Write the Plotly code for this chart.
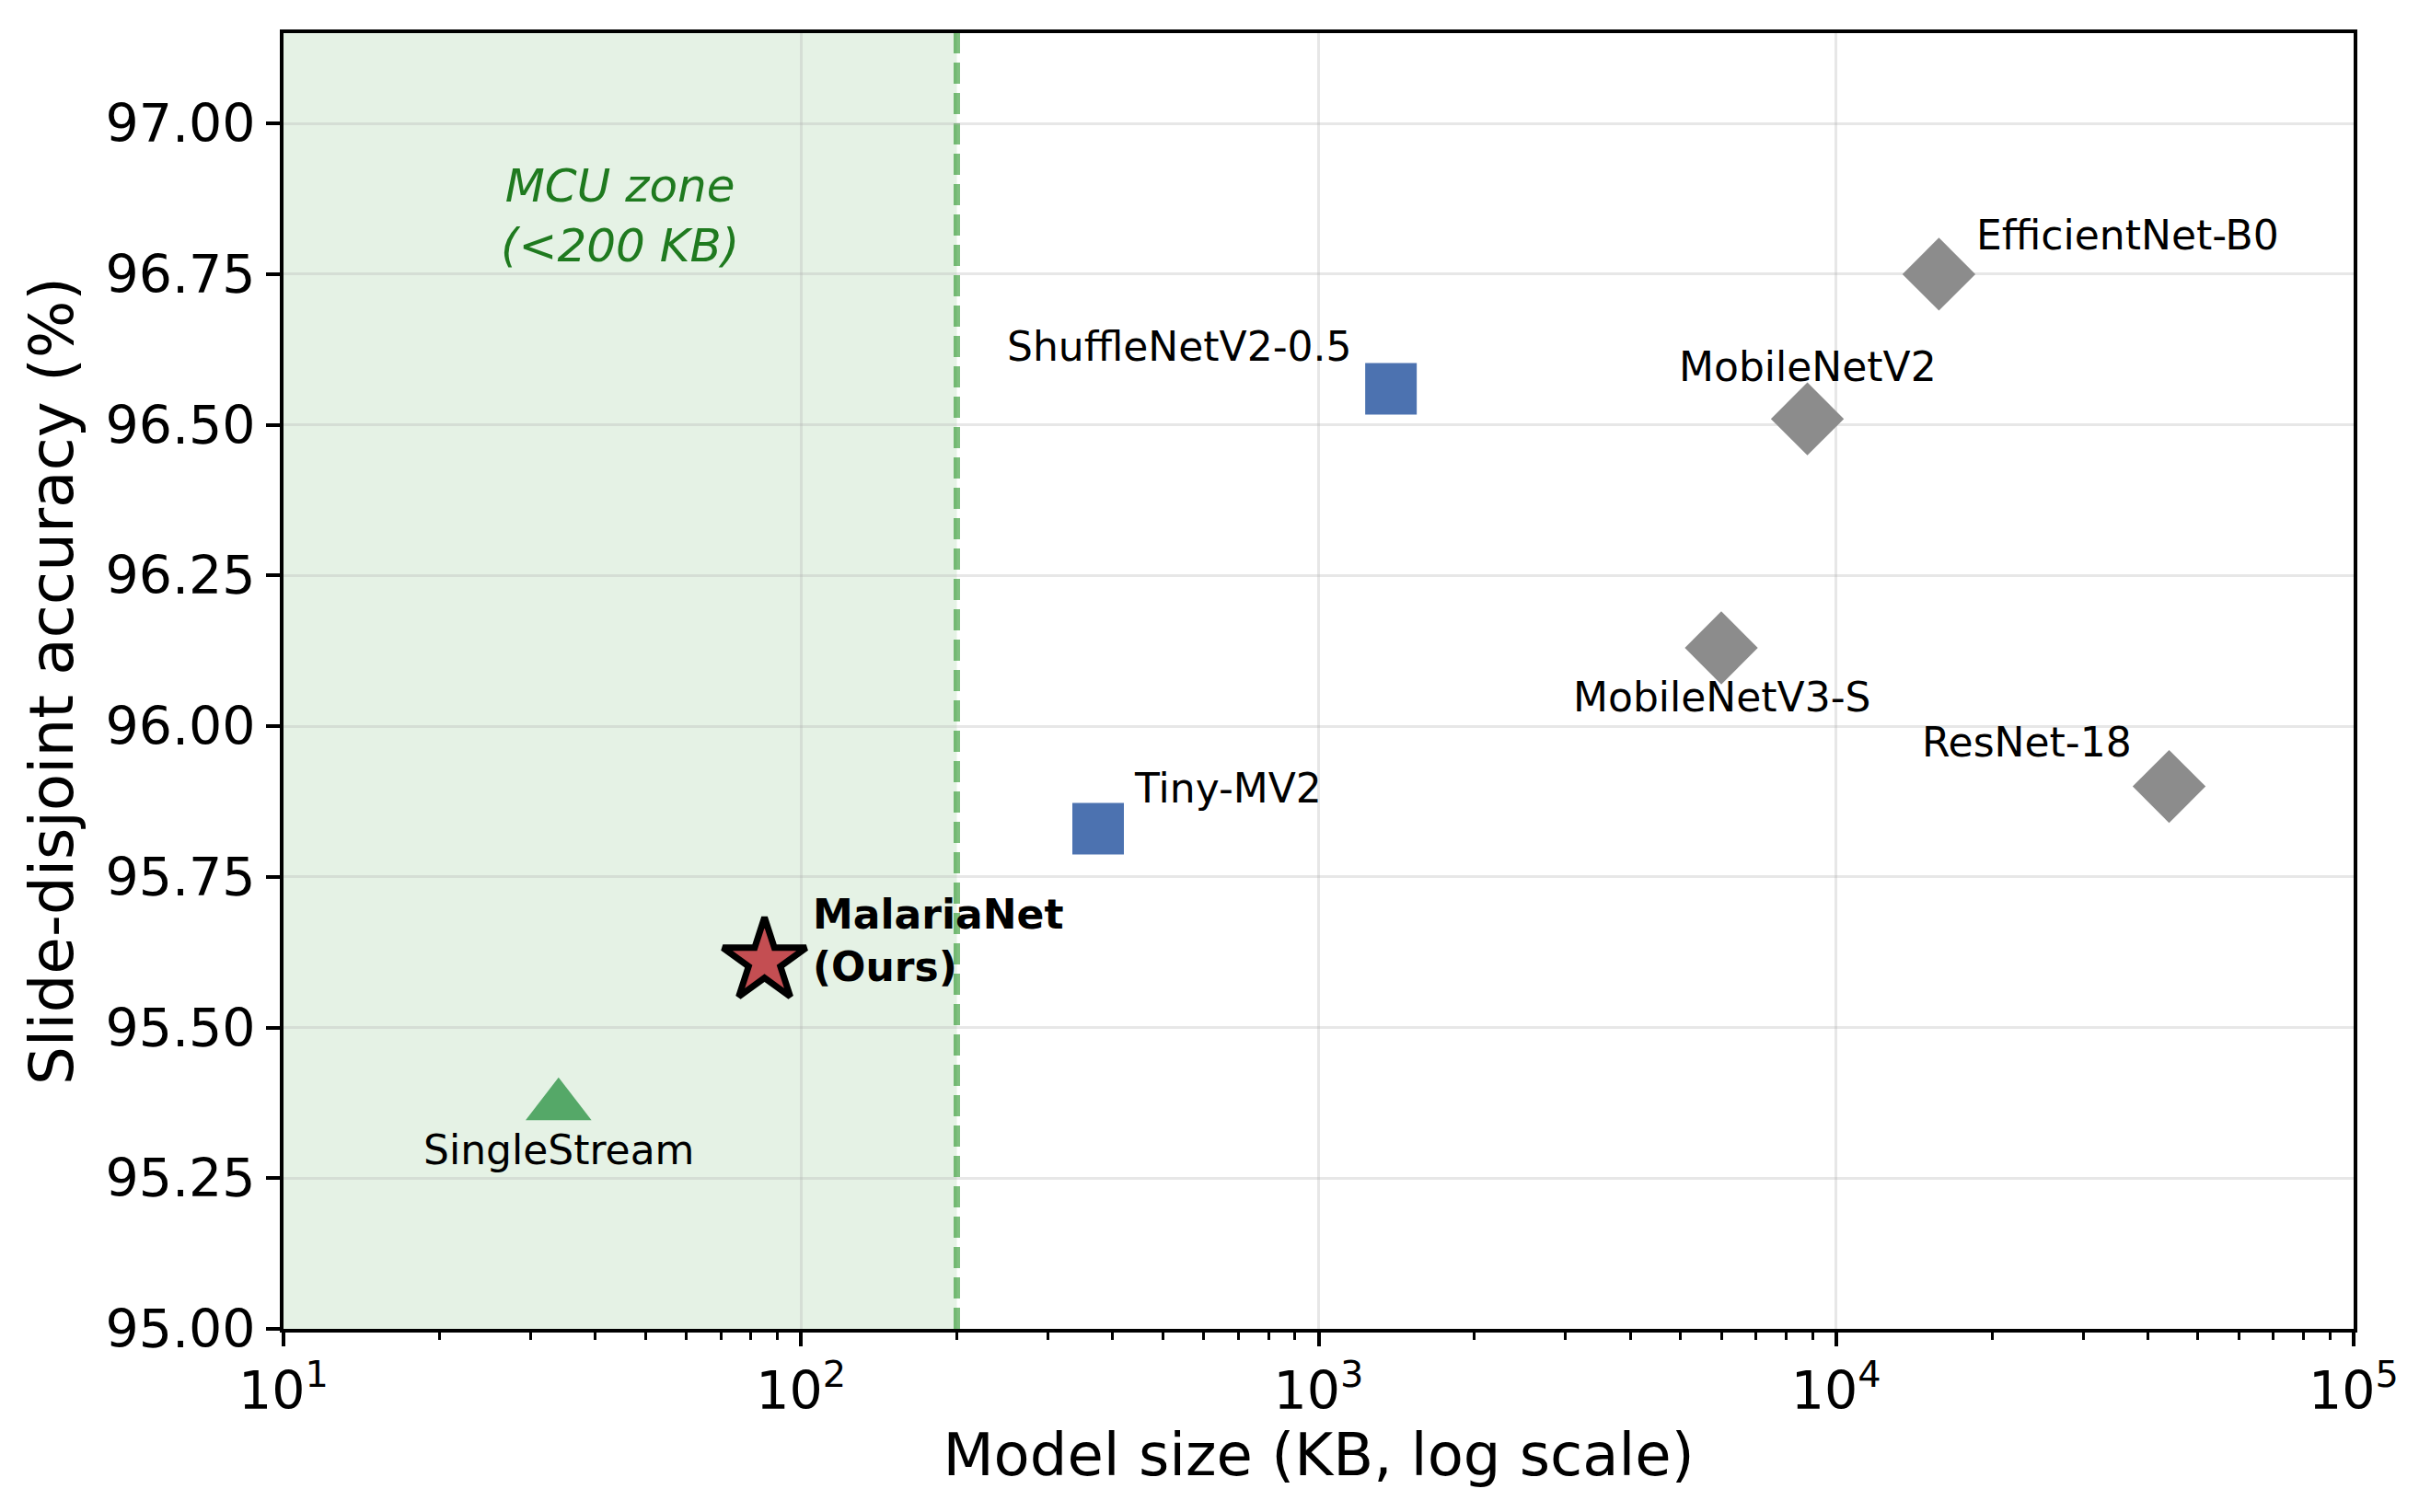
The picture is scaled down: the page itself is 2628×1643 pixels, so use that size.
import numpy as np
import plotly.graph_objects as go

# model name, size (KB), slide-disjoint accuracy (%)
ours_name = ["MalariaNet<br>(Ours)"]
ours_size = [85]
ours_acc = [95.61]

single_name = ["SingleStream"]
single_size = [34]
single_acc = [95.37]

light_names = ["Tiny-MV2", "ShuffleNetV2-0.5"]
light_size = [375, 1380]
light_acc = [95.83, 96.56]

big_names = ["MobileNetV3-S", "MobileNetV2", "EfficientNet-B0", "ResNet-18"]
big_size = [6000, 8800, 15800, 44000]
big_acc = [96.13, 96.51, 96.75, 95.90]

mcu_limit = 200
x_decades = [1, 2, 3, 4, 5]
x_ticktext = ["10<sup>%d</sup>" % d for d in x_decades]

# label placement: (xanchor, xshift px, yshift px)
label_pos = {
    "MalariaNet<br>(Ours)": ("left", 50, 23),
    "SingleStream": ("center", 0, -48),
    "Tiny-MV2": ("left", 37, 44),
    "ShuffleNetV2-0.5": ("right", -40, 46),
    "MobileNetV3-S": ("center", 0, -54),
    "MobileNetV2": ("center", 0, 57),
    "EfficientNet-B0": ("left", 39, 42),
    "ResNet-18": ("right", -39, 48),
}

FONT = "DejaVu Sans"
fig = go.Figure()

# MCU zone shading + boundary
fig.add_vrect(x0=10, x1=mcu_limit, fillcolor="rgba(0,128,0,0.1)", line_width=0, layer="below")
fig.add_vline(x=mcu_limit, line=dict(color="rgba(0,128,0,0.5)", width=7, dash="23px,10px"), layer="below")

fig.add_trace(go.Scatter(
    x=big_size, y=big_acc, mode="markers",
    marker=dict(symbol="diamond", size=61, color="#8c8c8c", line=dict(width=0)),
    showlegend=False))
fig.add_trace(go.Scatter(
    x=light_size, y=light_acc, mode="markers",
    marker=dict(symbol="square", size=56, color="#4c72b0", line=dict(width=0)),
    showlegend=False))
fig.add_trace(go.Scatter(
    x=single_size, y=single_acc, mode="markers",
    marker=dict(symbol="triangle-up", size=62, color="#55a868", line=dict(width=0)),
    showlegend=False))
fig.add_trace(go.Scatter(
    x=ours_size, y=ours_acc, mode="markers",
    marker=dict(symbol="star", size=68, color="#c44e52", line=dict(width=7, color="black")),
    showlegend=False))

for names, sizes, accs in [(ours_name, ours_size, ours_acc), (single_name, single_size, single_acc),
                           (light_names, light_size, light_acc), (big_names, big_size, big_acc)]:
    for n, s, a in zip(names, sizes, accs):
        anchor, dx, dy = label_pos[n]
        bold = n in ours_name
        fig.add_annotation(
            x=np.log10(s), y=a, xref="x", yref="y",
            text="<b>%s</b>" % n if bold else n,
            showarrow=False, xanchor=anchor, yanchor="middle", align="left",
            xshift=dx, yshift=dy,
            font=dict(family=FONT, size=44, color="black"))

fig.add_annotation(
    x=np.log10(np.sqrt(10 * mcu_limit)), y=96.847, xref="x", yref="y",
    text="<i>MCU zone<br>(<200 KB)</i>", showarrow=False,
    xanchor="center", yanchor="middle", align="center",
    font=dict(family=FONT, size=50, color="#1f7a1f"))

minor_vals = [m * 10 ** e for e in range(1, 5) for m in range(2, 10)]

fig.update_xaxes(
    type="log", range=[1, 5],
    tickmode="array", tickvals=[10 ** d for d in x_decades], ticktext=x_ticktext,
    ticks="outside", ticklen=15, tickwidth=4, tickcolor="black",
    minor=dict(tickmode="array", tickvals=minor_vals, ticks="outside", ticklen=8,
               tickwidth=3, tickcolor="black", showgrid=False),
    showline=True, linewidth=4, linecolor="black", mirror=True,
    showgrid=True, gridcolor="rgba(176,176,176,0.3)", gridwidth=3,
    tickfont=dict(family=FONT, size=57, color="black"),
    title=dict(text="Model size (KB, log scale)", standoff=16,
               font=dict(family=FONT, size=64, color="black")),
    zeroline=False)
fig.update_yaxes(
    range=[95, 97.15], tick0=95, dtick=0.25, tickformat=".2f",
    ticks="outside", ticklen=15, tickwidth=4, tickcolor="black",
    showline=True, linewidth=4, linecolor="black", mirror=True,
    showgrid=True, gridcolor="rgba(176,176,176,0.3)", gridwidth=3,
    tickfont=dict(family=FONT, size=57, color="black"),
    title=dict(text="Slide-disjoint accuracy (%)", standoff=14,
               font=dict(family=FONT, size=66, color="black")),
    zeroline=False)

# page body has an 8px margin, so the plot box is offset accordingly
fig.update_layout(
    width=2628, height=1643,
    margin=dict(l=300, r=79, t=28, b=207, autoexpand=False),
    plot_bgcolor="white", paper_bgcolor="white",
    font=dict(family=FONT, color="black"))

fig.write_html("out.html")
